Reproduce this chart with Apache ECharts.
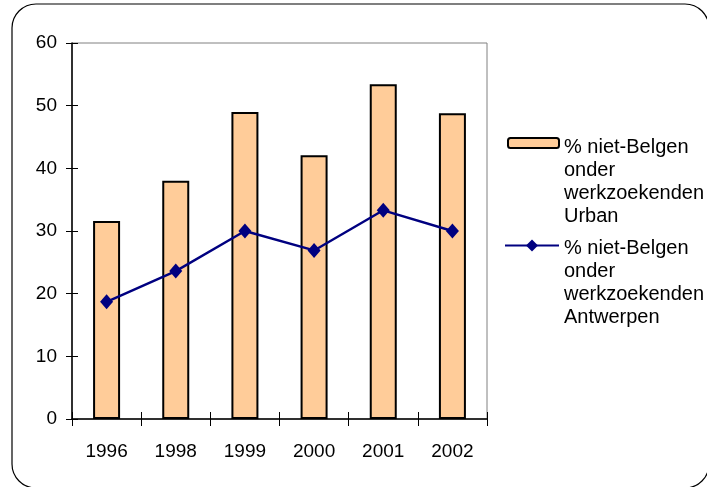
<!DOCTYPE html>
<html>
<head>
<meta charset="utf-8">
<script src="https://cdn.jsdelivr.net/npm/echarts@6/dist/echarts.min.js"></script>
<style>
html,body{margin:0;padding:0;background:#fff;}
#chart{width:707px;height:487px;}
</style>
</head>
<body>
<div id="chart"></div>
<script>
const categories = ['1996', '1998', '1999', '2000', '2001', '2002'];
const urbanValues = [31.6, 38.0, 49.0, 42.1, 53.4, 48.8];
const antwerpenValues = [18.7, 23.6, 30.0, 26.9, 33.3, 30.0];
const urbanName = '% niet-Belgen\nonder\nwerkzoekenden\nUrban';
const antwerpenName = '% niet-Belgen\nonder\nwerkzoekenden\nAntwerpen';
const yTicks = {min: 0, max: 60, interval: 10};

const FONT = 'Liberation Sans, Arial, sans-serif';
const LH = 23;

const chart = echarts.init(document.getElementById('chart'), null, {renderer: 'canvas'});
function legendText() {
  return function (name) { return '{s| }\n' + name; };
}
const option = {
  backgroundColor: '#fff',
  animation: false,
  graphic: [{
    type: 'rect',
    shape: {x: 12, y: 4, width: 697, height: 484, r: 24},
    style: {fill: 'none', stroke: '#000', lineWidth: 1.2},
    silent: true,
    z: -1
  }],
  grid: {
    left: 72, right: 220, top: 43, bottom: 68,
    show: true, borderColor: '#808080', borderWidth: 1, backgroundColor: 'transparent'
  },
  legend: [{
    orient: 'vertical',
    left: 507, top: 58.5,
    padding: 0,
    itemWidth: 51, itemHeight: 10,
    itemGap: 0,
    data: [{name: urbanName}],
    formatter: legendText(),
    textStyle: {fontFamily: FONT, fontSize: 20, color: '#000', lineHeight: LH,
      rich: {s: {lineHeight: 77, fontSize: 20, fontFamily: FONT}}},
    selectedMode: false
  }, {
    orient: 'vertical',
    left: 504, top: 162,
    padding: 0,
    itemWidth: 54, itemHeight: 15,
    itemGap: 0,
    data: [{name: antwerpenName}],
    formatter: legendText(),
    textStyle: {fontFamily: FONT, fontSize: 20, color: '#000', lineHeight: LH,
      rich: {s: {lineHeight: 75, fontSize: 20, fontFamily: FONT}}},
    selectedMode: false
  }],
  xAxis: [{
    type: 'category',
    data: categories,
    boundaryGap: true,
    axisLine: {lineStyle: {color: '#000', width: 1.5}},
    axisTick: {show: true, inside: false, length: 7, alignWithLabel: false, lineStyle: {color: '#000', width: 1}},
    axisLabel: {fontFamily: FONT, fontSize: 19, color: '#000', margin: 23}
  }, {
    type: 'category',
    data: categories,
    position: 'bottom',
    boundaryGap: true,
    axisLine: {show: false},
    axisTick: {show: true, inside: true, length: 7, alignWithLabel: false, lineStyle: {color: '#000', width: 1}},
    axisLabel: {show: false}
  }],
  yAxis: [{
    type: 'value',
    min: yTicks.min, max: yTicks.max, interval: yTicks.interval,
    axisLine: {show: true, lineStyle: {color: '#000', width: 1.5}},
    axisTick: {show: true, inside: false, length: 6, lineStyle: {color: '#000', width: 1}},
    axisLabel: {fontFamily: FONT, fontSize: 19, color: '#000', margin: 15},
    splitLine: {show: false}
  }, {
    type: 'value',
    position: 'left',
    min: yTicks.min, max: yTicks.max, interval: yTicks.interval,
    axisLine: {show: false},
    axisTick: {show: true, inside: true, length: 6, lineStyle: {color: '#000', width: 1}},
    axisLabel: {show: false},
    splitLine: {show: false}
  }],
  series: [{
    name: urbanName,
    type: 'bar',
    data: urbanValues,
    barWidth: 27,
    itemStyle: {color: '#FFCC99', borderColor: '#000', borderWidth: 2},
    z: 2
  }, {
    name: antwerpenName,
    type: 'line',
    data: antwerpenValues,
    symbol: 'diamond',
    symbolSize: [13, 15],
    lineStyle: {color: '#000080', width: 2.4},
    itemStyle: {color: '#000080'},
    z: 3
  }]
};
chart.setOption(option);
</script>
</body>
</html>
